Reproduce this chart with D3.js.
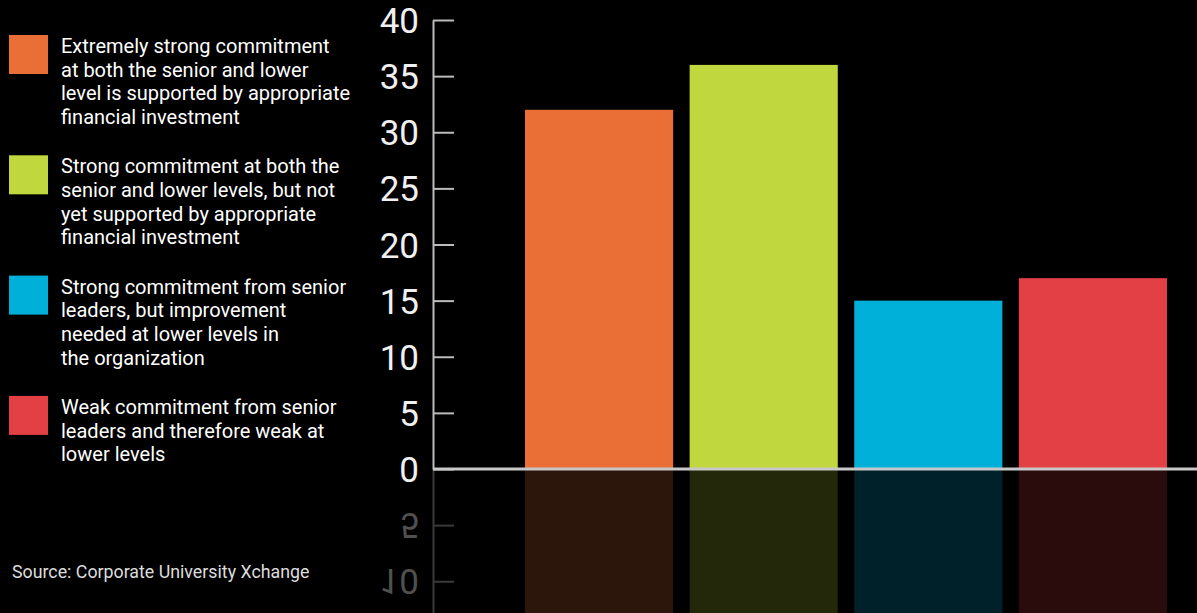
<!DOCTYPE html>
<html><head><meta charset="utf-8">
<script src="https://cdn.jsdelivr.net/npm/d3@7"></script>
<style>body{margin:0;background:#000;}svg{display:block;}</style>
</head><body>
<script>
const categories = [
  ["Extremely strong commitment","at both the senior and lower","level is supported by appropriate","financial investment"],
  ["Strong commitment at both the","senior and lower levels, but not","yet supported by appropriate","financial investment"],
  ["Strong commitment from senior","leaders, but improvement","needed at lower levels in","the organization"],
  ["Weak commitment from senior","leaders and therefore weak at","lower levels"]
];
const values = [32, 36, 15, 17];
const colors = ["#e96f37", "#c0d73d", "#00b0d8", "#e34046"];
const tickValues = [0, 5, 10, 15, 20, 25, 30, 35, 40];
const reflectTicks = [5, 10];
const source = "Source: Corporate University Xchange";

const W = 1197, H = 613;
const svg = d3.select("body").append("svg").attr("width", W).attr("height", H).style("background", "#000");

const keys = categories.map((c, i) => "c" + i);
const x = d3.scaleBand().domain(keys).range([525, 1167]).paddingInner(0.1).paddingOuter(0);
const y = d3.scaleLinear().domain([0, 40]).range([469, 20]);
const yr = d3.scaleLinear().domain([0, 40]).range([469, 918]);

// reflection bars
svg.append("g").selectAll("rect").data(values).join("rect")
  .attr("x", (d, i) => x(keys[i]))
  .attr("width", x.bandwidth())
  .attr("y", yr(0))
  .attr("height", d => yr(d) - yr(0))
  .attr("fill", (d, i) => colors[i])
  .attr("opacity", 0.19);

// bars
svg.append("g").selectAll("rect").data(values).join("rect")
  .attr("x", (d, i) => x(keys[i]))
  .attr("width", x.bandwidth())
  .attr("y", d => y(d))
  .attr("height", d => y(0) - y(d))
  .attr("fill", (d, i) => colors[i]);

// reflected axis
const ra = svg.append("g").attr("transform", "translate(433,0)")
  .call(d3.axisLeft(yr).tickValues(reflectTicks).tickSizeInner(-21).tickSizeOuter(0).tickPadding(14));
ra.select(".domain").attr("stroke", "#3a3a3a").attr("stroke-width", 2);
ra.selectAll(".tick line").attr("stroke", "#3a3a3a").attr("stroke-width", 2);
ra.selectAll(".tick text").attr("fill", "#505050")
  .style("font-family", "Roboto").style("font-size", "35px")
  .attr("transform", "scale(1,-1)").attr("dy", "0.36em");

// main axis
const ax = svg.append("g").attr("transform", "translate(433,0)")
  .call(d3.axisLeft(y).tickValues(tickValues).tickSizeInner(-21).tickSizeOuter(0).tickPadding(14));
ax.select(".domain").attr("stroke", "#bbb").attr("stroke-width", 2);
ax.selectAll(".tick line").attr("stroke", "#bbb").attr("stroke-width", 2);
ax.selectAll(".tick text").attr("fill", "#f0f0f0")
  .style("font-family", "Roboto").style("font-size", "35px").attr("dy", "0.36em");

// zero line
svg.append("line").attr("x1", 433).attr("x2", W).attr("y1", y(0)).attr("y2", y(0))
  .attr("stroke", "#c8c8c8").attr("stroke-width", 3);

// legend
const lg = svg.append("g").selectAll("g").data(categories).join("g")
  .attr("transform", (d, i) => `translate(9,${35 + i * 120.3})`);
lg.append("rect").attr("width", 39).attr("height", 39).attr("fill", (d, i) => colors[i]);
lg.append("text")
  .attr("x", 52).attr("y", 18)
  .attr("fill", "#fff")
  .style("font-family", "Roboto").style("font-size", "20px")
  .selectAll("tspan").data(d => d).join("tspan")
  .attr("x", 52).attr("dy", (d, i) => i === 0 ? 0 : 23.7)
  .text(d => d);

svg.append("text").attr("x", 12).attr("y", 578).attr("fill", "#ddd")
  .style("font-family", "Roboto").style("font-size", "17.8px").text(source);
</script>
</body></html>
